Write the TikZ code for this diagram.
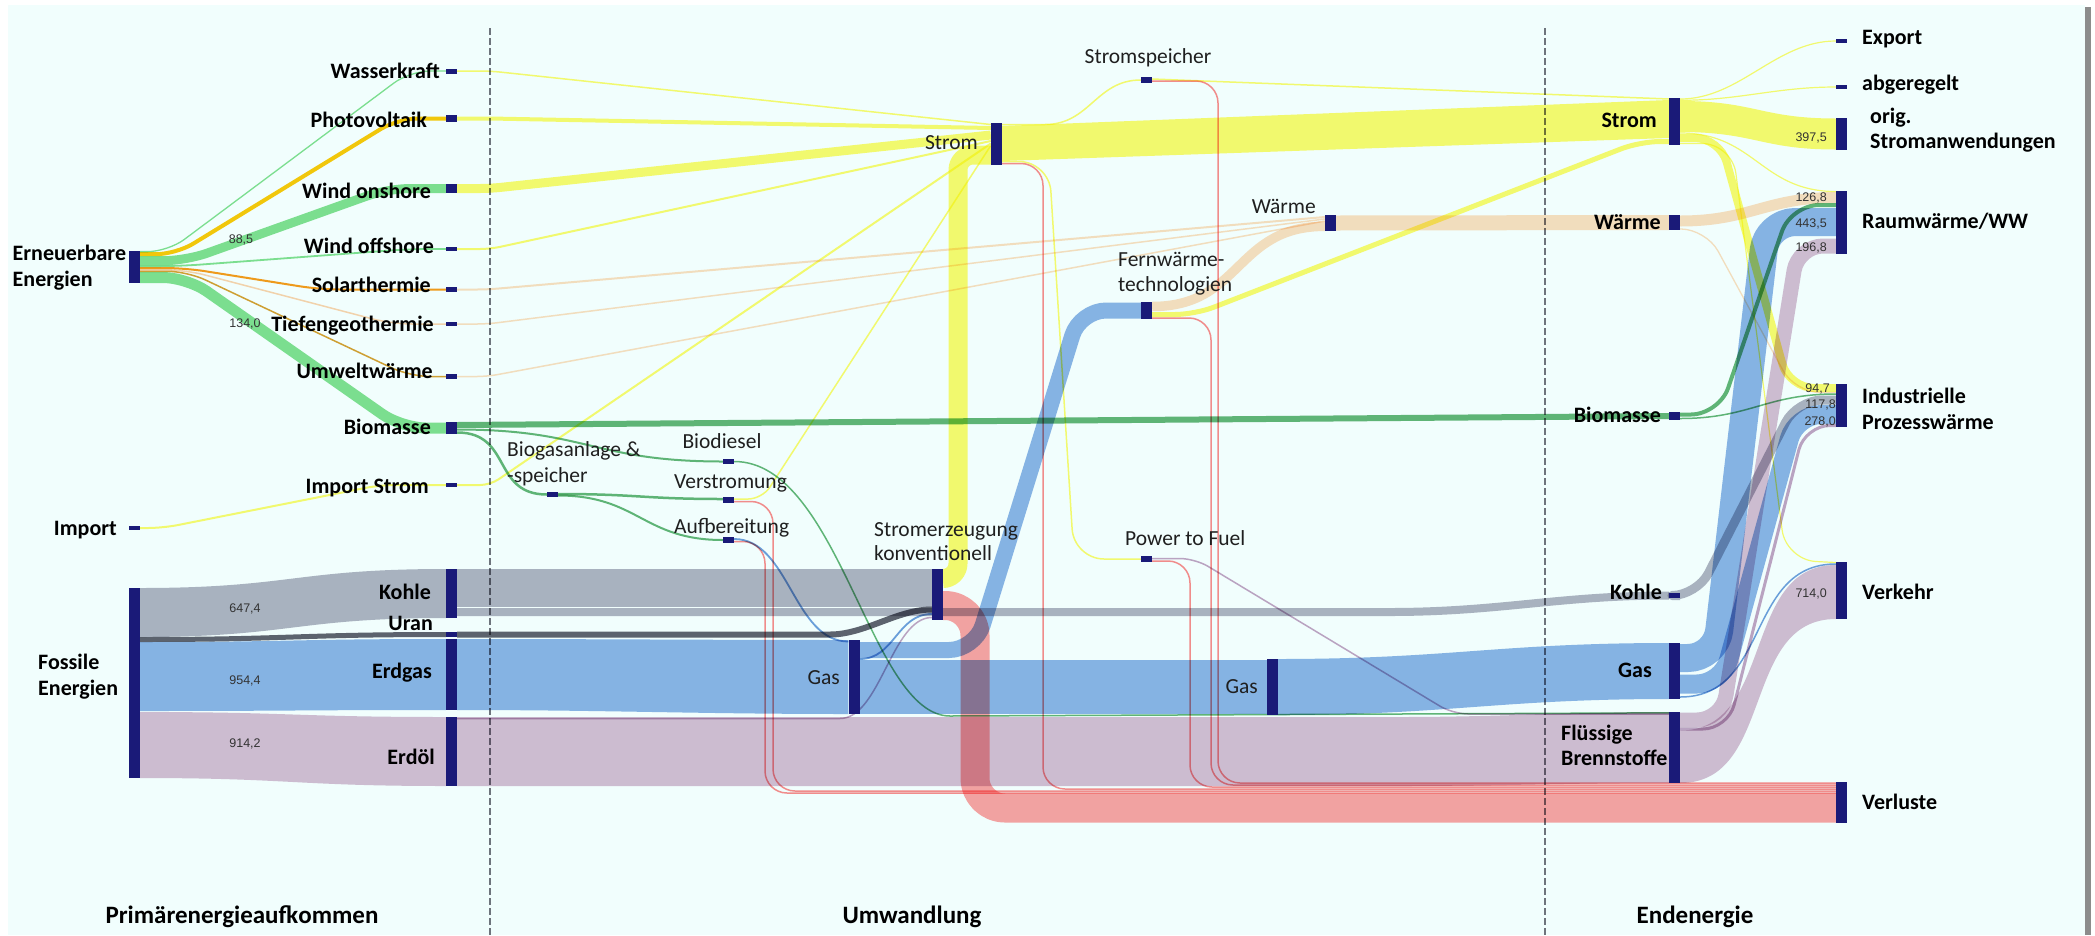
\documentclass[tikz,border=0pt]{standalone}
\usepackage{fontspec}
\setmainfont{Carlito}
\newfontfamily\numfont{Liberation Sans}
\usetikzlibrary{calc}
\definecolor{barc}{HTML}{1A1A78}
\definecolor{panelc}{HTML}{F1FEFD}
\definecolor{dashc}{HTML}{6E747C}
\definecolor{stromc}{HTML}{FFFA6F}
\definecolor{waermec}{HTML}{FFDEBF}
\definecolor{bioc}{HTML}{64B577}
\definecolor{renc}{HTML}{83DF91}
\definecolor{pvc}{HTML}{FFC80C}
\definecolor{solc}{HTML}{FC9B1C}
\definecolor{umwc}{HTML}{DBA034}
\definecolor{tiefc}{HTML}{FFD3AD}
\definecolor{kohlec}{HTML}{B2B3C1}
\definecolor{uranc}{HTML}{62646F}
\definecolor{gasc}{HTML}{8DB4E5}
\definecolor{gasline}{HTML}{709FDB}
\definecolor{oelc}{HTML}{D8BDD2}
\definecolor{oelline}{HTML}{C4A4C3}
\definecolor{lossc}{HTML}{FFA3A3}
\definecolor{lossline}{HTML}{FE8D8D}
\pgfdeclarelayer{bg}
\pgfdeclarelayer{flows}
\pgfsetlayers{bg,flows,main}
\tikzset{
  bar/.style={fill=barc, draw=none, inner sep=0pt, minimum width=11pt, minimum height=#1},
  w/.style={line width=#1pt},
  fl/.style={draw=#1, line cap=butt, line join=round, blend mode=multiply},
  band/.style={fill=#1, draw=none, blend mode=multiply},
  sk/.style={to path={.. controls +(#1,0) and +(-#1,0) .. (\tikztotarget)}},
  skr/.style={to path={.. controls +(-#1,0) and +(#1,0) .. (\tikztotarget)}},
  lbl/.style={font=\fontsize{22}{26}\selectfont\bfseries, inner sep=0pt, text=black},
  cnv/.style={font=\fontsize{21.5}{26}\selectfont, inner sep=0pt, text=black!88},
  val/.style={font=\numfont\fontsize{12.5}{14}\selectfont, inner sep=0pt, text=black!80},
  head/.style={font=\fontsize{25}{30}\selectfont\bfseries, inner sep=0pt, text=black},
}
\begin{document}
\begin{tikzpicture}[x=1pt,y=-1pt]
\useasboundingbox (0,0) rectangle (2095,935);

% ---------- nodes (bars) ----------
% primary sources
\node[bar=32pt] (ern) at (134.5,267) {};
\node[bar=190pt] (fos) at (134.5,683) {};
\node[bar=4pt] (imp) at (134.5,528) {};
% primary carriers
\node[bar=5pt] (wk) at (451.5,71) {};
\node[bar=7pt] (pv) at (451.5,118.5) {};
\node[bar=9pt] (won) at (451.5,188.5) {};
\node[bar=4pt] (woff) at (451.5,249) {};
\node[bar=5pt] (sol) at (451.5,289.5) {};
\node[bar=4pt] (tg) at (451.5,324) {};
\node[bar=5pt] (uw) at (451.5,376.5) {};
\node[bar=12pt] (bio) at (451.5,428) {};
\node[bar=4pt] (ims) at (451.5,485) {};
\node[bar=49pt] (kohle) at (451.5,593.5) {};
\node[bar=5pt] (uran) at (451.5,634.5) {};
\node[bar=71pt] (erdgas) at (451.5,674.5) {};
\node[bar=69pt] (erdoel) at (451.5,751.5) {};
% conversion
\node[bar=42pt] (stc) at (996.5,144) {};
\node[bar=6pt] (ssp) at (1146.5,80) {};
\node[bar=16pt] (wac) at (1330.5,223) {};
\node[bar=17pt] (fwt) at (1146.5,310.5) {};
\node[bar=5pt] (bdi) at (728.5,461.5) {};
\node[bar=5pt] (bga) at (552.5,494.5) {};
\node[bar=6pt] (vst) at (728.5,500) {};
\node[bar=6pt] (auf) at (728.5,540) {};
\node[bar=51pt] (skv) at (937.5,594.5) {};
\node[bar=74pt] (gas1) at (854,677) {};
\node[bar=6pt] (ptf) at (1146.5,559) {};
\node[bar=56pt] (gas2) at (1272.5,687) {};
% final energy
\node[bar=47pt] (stf) at (1674.5,121.5) {};
\node[bar=15pt] (waf) at (1674.5,222.5) {};
\node[bar=8pt] (bif) at (1674.5,416) {};
\node[bar=5pt] (kof) at (1674.5,595.5) {};
\node[bar=56pt] (gaf) at (1674.5,671) {};
\node[bar=71pt] (flb) at (1674.5,747.5) {};
% uses
\node[bar=4pt] (exp) at (1841.5,41) {};
\node[bar=4pt] (abg) at (1841.5,87) {};
\node[bar=32pt] (osa) at (1841.5,134) {};
\node[bar=63pt] (rww) at (1841.5,222.5) {};
\node[bar=43pt] (ipw) at (1841.5,405.5) {};
\node[bar=57pt] (vrk) at (1841.5,590.5) {};
\node[bar=41pt] (vrl) at (1841.5,802.5) {};

% ---------- background panel ----------
\begin{pgfonlayer}{bg}
\fill[white] (0,0) rectangle (2095,935);
\fill[black!45] (2084,7) rectangle (2091,935);
\fill[panelc] (8,5) rectangle (2085,935);
\draw[dashc, w=2, dash pattern=on 7pt off 3pt] (490,28) -- (490,935);
\draw[dashc, w=2, dash pattern=on 7pt off 3pt] (1545,28) -- (1545,935);
\end{pgfonlayer}

% ---------- flows ----------
\begin{pgfonlayer}{flows}
% renewables split
\draw[fl=renc, w=1.3, rounded corners=20pt] (ern.east|-0,251.6) -- (168,251.6) -- (410,71) -- (wk.west|-0,71);
\draw[fl=pvc, w=4, rounded corners=20pt] (ern.east|-0,254.2) -- (176,254.2) -- (398,118.5) -- (pv.west|-0,118.5);
\draw[fl=renc, w=9, rounded corners=22pt] (ern.east|-0,260.7) -- (186,260.7) -- (388,188.5) -- (won.west|-0,188.5);
\draw[fl=renc, w=1.8, rounded corners=20pt] (ern.east|-0,266.1) -- (180,266.1) -- (410,249) -- (woff.west|-0,249);
\draw[fl=solc, w=2, rounded corners=20pt] (ern.east|-0,268) -- (185,268) -- (320,289.5) -- (sol.west|-0,289.5);
\draw[fl=tiefc, w=1.5, rounded corners=20pt] (ern.east|-0,269.75) -- (185,269.75) -- (392,324) -- (tg.west|-0,324);
\draw[fl=umwc, w=1.5, rounded corners=20pt] (ern.east|-0,271.25) -- (187,271.25) -- (410,376.5) -- (uw.west|-0,376.5);
\draw[fl=renc, w=11, rounded corners=24pt] (ern.east|-0,277.5) -- (187,277.5) -- (402,428) -- (bio.west|-0,428);
% fossil split
\fill[band=kohlec] (fos.east|-0,588) to[sk=150] (kohle.west|-0,569) -- (kohle.west|-0,618) to[skr=150] (fos.east|-0,637) -- cycle;
\draw[fl=uranc, w=5] (fos.east|-0,639.5) to[sk=150] (uran.west|-0,634.5);
\fill[band=gasc] (fos.east|-0,642) to[sk=150] (erdgas.west|-0,639) -- (erdgas.west|-0,710) to[skr=150] (fos.east|-0,711) -- cycle;
\fill[band=oelc] (fos.east|-0,712) to[sk=150] (erdoel.west|-0,717) -- (erdoel.west|-0,786) to[skr=150] (fos.east|-0,778) -- cycle;
\draw[fl=stromc, w=2, rounded corners=15pt] (imp.east|-0,528) -- (163,528) -- (380,485) -- (ims.west|-0,485);

% electricity into conversion
\draw[fl=stromc, w=1.5, rounded corners=10pt] (wk.east) -- ++(33,0) -- (stc.west|-0,124.5);
\draw[fl=stromc, w=4, rounded corners=10pt] (pv.east) -- ++(33,0) -- (stc.west|-0,128);
\draw[fl=stromc, w=9, rounded corners=10pt] (won.east) -- ++(33,0) -- (stc.west|-0,135);
\draw[fl=stromc, w=2, rounded corners=10pt] (woff.east) -- ++(33,0) -- (stc.west|-0,141);
\draw[fl=stromc, w=2, rounded corners=10pt] (ims.east) -- ++(33,0) -- (stc.west|-0,143.5);
\draw[fl=stromc, w=1.5, rounded corners=14pt] (vst.east|-0,499) -- ++(28,0) -- (stc.west|-0,145.5);
% heat into conversion
\draw[fl=waermec, w=2, rounded corners=10pt] (sol.east) -- ++(30,0) -- (wac.west|-0,217);
\draw[fl=waermec, w=1.5, rounded corners=10pt] (tg.east) -- ++(30,0) -- (wac.west|-0,219);
\draw[fl=waermec, w=1.5, rounded corners=10pt] (uw.east) -- ++(30,0) -- (wac.west|-0,221);
\draw[fl=waermec, w=9.5] (fwt.east|-0,306.5) to[sk=90] (wac.west|-0,226.3);
\draw[fl=waermec, w=15] (wac.east|-0,223) -- (waf.west|-0,222.5);

% biomass
\draw[fl=bioc, w=6] (bio.east|-0,425) -- (bif.west|-0,416);
\draw[fl=bioc, w=2] (bio.east|-0,429.5) to[sk=130] (bdi.west|-0,461.5);
\draw[fl=bioc, w=2.5] (bio.east|-0,432.5) to[sk=55] (bga.west|-0,494.5);
\draw[fl=bioc, w=2.5] (bga.east|-0,494) to[sk=80] (vst.west|-0,499);
\draw[fl=bioc, w=2] (bga.east|-0,495.5) to[sk=80] (auf.west|-0,540);
\draw[fl=bioc, w=1.5] (bdi.east) .. controls (840,461.5) and (870,716) .. (950,716) -- (flb.west|-0,712.8);

% coal, uranium
\fill[band=kohlec] (kohle.east|-0,569) rectangle (skv.west|-0,607);
\draw[fl=kohlec, w=8] (kohle.east|-0,612) -- (1390,612) to[sk=110] (kof.west|-0,595.5);
\draw[fl=uranc, w=6] (uran.east|-0,634.5) -- (830,634.5) to[sk=35] (skv.west|-0,609.5);

% gas
\fill[band=gasc] (erdgas.east|-0,639) to[sk=150] (gas1.west|-0,640) -- (gas1.west|-0,714) to[skr=150] (erdgas.east|-0,710) -- cycle;
\draw[fl=gasc, w=16, rounded corners=26pt] (gas1.east|-0,650) -- (975,650) -- (1080,310.5) -- (fwt.west|-0,310.5);
\draw[fl=gasline, w=1.8] (gas1.east|-0,659) to[sk=35] (skv.west|-0,614);
\fill[band=gasc] (gas1.east|-0,660) rectangle (gas2.west|-0,714);
\draw[fl=gasline, w=1.8] (auf.east|-0,539) to[sk=55] (gas1.west|-0,641.5);
\fill[band=gasc] (gas2.east|-0,659) to[sk=170] (gaf.west|-0,643) -- (gaf.west|-0,699) to[skr=170] (gas2.east|-0,715) -- cycle;

% oil
\fill[band=oelc] (erdoel.east|-0,717) -- (1400,717) to[sk=100] (flb.west|-0,712) -- (flb.west|-0,783) to[skr=100] (1400,786) -- (erdoel.east|-0,786) -- cycle;
\draw[fl=oelline, w=1.5] (erdoel.east|-0,718.5) -- (840,718.5) to[sk=40] (skv.west|-0,617.5);
\draw[fl=oelline, w=1.5, rounded corners=15pt] (ptf.east|-0,558.5) -- (1195,558.5) -- (1453,714) -- (flb.west|-0,714);

% conventional power plants
\draw[fl=stromc, w=19, rounded corners=15pt] (skv.east|-0,578.5) -- (958,578.5) -- (958,155) -- (stc.west|-0,155);
\draw[fl=lossc, w=29, rounded corners=30pt] (skv.east|-0,605.5) -- (975,605.5) -- (975,808) -- (vrl.west|-0,808);

% losses
\draw[fl=lossline, w=1.5, rounded corners=22pt] (ssp.east|-0,81) -- (1218,81) -- (1218,783) -- (vrl.west|-0,783);
\draw[fl=lossline, w=1.5, rounded corners=22pt] (fwt.east|-0,318) -- (1211,318) -- (1211,785) -- (vrl.west|-0,785);
\draw[fl=lossline, w=1.5, rounded corners=22pt] (ptf.east|-0,561) -- (1190,561) -- (1190,787) -- (vrl.west|-0,787);
\draw[fl=lossline, w=1.5, rounded corners=22pt] (stc.east|-0,163.5) -- (1043,163.5) -- (1043,789) -- (vrl.west|-0,789);
\draw[fl=lossline, w=1.5, rounded corners=22pt] (vst.east|-0,501.5) -- (773,501.5) -- (773,791) -- (vrl.west|-0,791);
\draw[fl=lossline, w=1.5, rounded corners=22pt] (auf.east|-0,541.5) -- (765,541.5) -- (765,793) -- (vrl.west|-0,793);

% electricity out of conversion
\fill[band=stromc] (stc.east|-0,126) -- (stf.west|-0,100) -- (stf.west|-0,138) -- (stc.east|-0,161) -- cycle;
\draw[fl=stromc, w=1.5] (stc.east|-0,124.5) -- (1045,124.5) to[sk=45] (ssp.west|-0,80);
\draw[fl=stromc, w=1.5, rounded corners=30pt] (stc.east|-0,161.5) -- (1049,161.5) -- (1074,559) -- (ptf.west|-0,559);
\draw[fl=stromc, w=1.5] (ssp.east|-0,79) -- (stf.west|-0,99);
\draw[fl=stromc, w=5, rounded corners=20pt] (fwt.east|-0,314.5) -- (1195,314.5) -- (1640,141.5) -- (stf.west|-0,141.5);

% final electricity
\draw[fl=stromc, w=1.2] (stf.east|-0,99) to[sk=60] (exp.west|-0,41);
\draw[fl=stromc, w=1.2] (stf.east|-0,100.3) to[sk=60] (abg.west|-0,87);
\fill[band=stromc] (stf.east|-0,101) to[sk=75] (osa.west|-0,118.5) -- (osa.west|-0,149.5) to[skr=75] (stf.east|-0,132) -- cycle;
\draw[fl=stromc, w=1.2] (stf.east|-0,133) to[sk=75] (rww.west|-0,191.5);
\draw[fl=stromc, w=8, rounded corners=25pt] (stf.east|-0,138) -- (1720,138) -- (1789,388) -- (ipw.west|-0,388);
\draw[fl=stromc, w=1.2, rounded corners=30pt] (stf.east|-0,143.5) -- (1732,143.5) -- (1786,560) -- (vrk.west|-0,562.5);
% final heat
\draw[fl=waermec, w=11] (waf.east|-0,221) to[sk=70] (rww.west|-0,197.5);
\draw[fl=waermec, w=1.3, rounded corners=25pt] (waf.east|-0,229) -- (1706,229) -- (1795,392.5) -- (ipw.west|-0,392.5);
% final biomass
\draw[fl=bioc, w=4, rounded corners=28pt] (bif.east|-0,414.5) -- (1719,414.5) -- (1791,205) -- (rww.west|-0,205);
\draw[fl=bioc, w=1.5] (bif.east|-0,418.5) to[sk=70] (ipw.west|-0,394);
% final coal
\draw[fl=kohlec, w=9, rounded corners=25pt] (kof.east|-0,595.5) -- (1697,595.5) -- (1797,400) -- (ipw.west|-0,400);
% final gas
\draw[fl=gasc, w=28, rounded corners=28pt] (gaf.east|-0,658) -- (1716,658) -- (1767,222) -- (rww.west|-0,222);
\draw[fl=gasc, w=19, rounded corners=25pt] (gaf.east|-0,684) -- (1722,684) -- (1796,414.5) -- (ipw.west|-0,414.5);
\draw[fl=gasline, w=1.5] (gaf.east|-0,697) to[sk=90] (vrk.west|-0,564);
% final liquid fuels
\draw[fl=oelc, w=15, rounded corners=25pt] (flb.east|-0,720) -- (1722,720) -- (1798,246) -- (rww.west|-0,246);
\draw[fl=oelline, w=3, rounded corners=25pt] (flb.east|-0,729) -- (1728,729) -- (1805,425.5) -- (ipw.west|-0,425.5);
\fill[band=oelc] (flb.east|-0,730.5) to[sk=95] (vrk.west|-0,565) -- (vrk.west|-0,619) to[skr=95] (flb.east|-0,783) -- cycle;
\end{pgfonlayer}

% ---------- labels ----------
\node[lbl, anchor=base west] (t-ern1) at (12.5,260) {Erneuerbare};
\node[lbl, anchor=base west] (t-ern2) at (12.5,286) {Energien};
\node[lbl, anchor=base west] (t-fos1) at (38,669) {Fossile};
\node[lbl, anchor=base west] (t-fos2) at (38,695) {Energien};
\node[lbl, anchor=base east] (t-imp) at (117,535) {Import};

\node[lbl, anchor=base east] (t-wk) at (440,78) {Wasserkraft};
\node[lbl, anchor=base east] (t-pv) at (427,127) {Photovoltaik};
\node[lbl, anchor=base east] (t-won) at (431,198) {Wind onshore};
\node[lbl, anchor=base east] (t-woff) at (434,253) {Wind offshore};
\node[lbl, anchor=base east] (t-sol) at (431,292) {Solarthermie};
\node[lbl, anchor=base east] (t-tg) at (434,331) {Tiefengeothermie};
\node[lbl, anchor=base east] (t-uw) at (433,378) {Umweltwärme};
\node[lbl, anchor=base east] (t-bio) at (431,434) {Biomasse};
\node[lbl, anchor=base east] (t-ims) at (429,493) {Import Strom};
\node[lbl, anchor=base east] (t-kohle) at (431,599) {Kohle};
\node[lbl, anchor=base east] (t-uran) at (433,630) {Uran};
\node[lbl, anchor=base east] (t-erdgas) at (432,678) {Erdgas};
\node[lbl, anchor=base east] (t-erdoel) at (435,764) {Erdöl};

\node[cnv, anchor=base east] (t-stc) at (978,149.5) {Strom};
\node[cnv, anchor=base] (t-ssp) at (1148,63.5) {Stromspeicher};
\node[cnv, anchor=base east] (t-wac) at (1316,213.5) {Wärme};
\node[cnv, anchor=base west] (t-fwt1) at (1118,266.5) {Fernwärme-};
\node[cnv, anchor=base west] (t-fwt2) at (1118,291.5) {technologien};
\node[cnv, anchor=base] (t-bdi) at (722,448.5) {Biodiesel};
\node[cnv, anchor=base west] (t-bga1) at (507,456.5) {Biogasanlage \&};
\node[cnv, anchor=base west] (t-bga2) at (507,482.5) {-speicher};
\node[cnv, anchor=base west] (t-vst) at (674,488.5) {Verstromung};
\node[cnv, anchor=base west] (t-auf) at (674,533.5) {Aufbereitung};
\node[cnv, anchor=base west] (t-skv1) at (874,536.5) {Stromerzeugung};
\node[cnv, anchor=base west] (t-skv2) at (874,560.5) {konventionell};
\node[cnv, anchor=base east] (t-gas1) at (840,684.5) {Gas};
\node[cnv, anchor=base west] (t-ptf) at (1125,545.5) {Power to Fuel};
\node[cnv, anchor=base east] (t-gas2) at (1258,693.5) {Gas};

\node[lbl, anchor=base east] (t-stf) at (1657,127) {Strom};
\node[lbl, anchor=base east] (t-waf) at (1661,229) {Wärme};
\node[lbl, anchor=base east] (t-bif) at (1661,422) {Biomasse};
\node[lbl, anchor=base east] (t-kof) at (1662,599) {Kohle};
\node[lbl, anchor=base east] (t-gaf) at (1652,677) {Gas};
\node[lbl, anchor=base west] (t-flb1) at (1561,740) {Flüssige};
\node[lbl, anchor=base west] (t-flb2) at (1561,765) {Brennstoffe};

\node[lbl, anchor=base west] (t-exp) at (1862,44) {Export};
\node[lbl, anchor=base west] (t-abg) at (1862,90) {abgeregelt};
\node[lbl, anchor=base west] (t-osa1) at (1870,123) {orig.};
\node[lbl, anchor=base west] (t-osa2) at (1870,148) {Stromanwendungen};
\node[lbl, anchor=base west] (t-rww) at (1862,228) {Raumwärme/WW};
\node[lbl, anchor=base west] (t-ipw1) at (1862,403) {Industrielle};
\node[lbl, anchor=base west] (t-ipw2) at (1862,429) {Prozesswärme};
\node[lbl, anchor=base west] (t-vrk) at (1862,599) {Verkehr};
\node[lbl, anchor=base west] (t-vrl) at (1862,809) {Verluste};

% values
\node[val, anchor=base] (v-won) at (241,243) {88,5};
\node[val, anchor=base] (v-bio) at (245,327) {134,0};
\node[val, anchor=base] (v-kohle) at (245,612) {647,4};
\node[val, anchor=base] (v-gas) at (245,684) {954,4};
\node[val, anchor=base] (v-oel) at (245,747) {914,2};
\node[val, anchor=base east] (v-osa) at (1827,141) {397,5};
\node[val, anchor=base east] (v-rw1) at (1827,201) {126,8};
\node[val, anchor=base east] (v-rw2) at (1827,227) {443,5};
\node[val, anchor=base east] (v-rw3) at (1827,251) {196,8};
\node[val, anchor=base east] (v-ip1) at (1830,392) {94,7};
\node[val, anchor=base east] (v-ip2) at (1836,408) {117,8};
\node[val, anchor=base east] (v-ip3) at (1836,425) {278,0};
\node[val, anchor=base east] (v-vrk) at (1827,597) {714,0};

% column headings
\node[head, anchor=base] (h-prim) at (242,923) {Primärenergieaufkommen};
\node[head, anchor=base] (h-umw) at (912,923) {Umwandlung};
\node[head, anchor=base] (h-end) at (1695,923) {Endenergie};
\end{tikzpicture}
\end{document}
